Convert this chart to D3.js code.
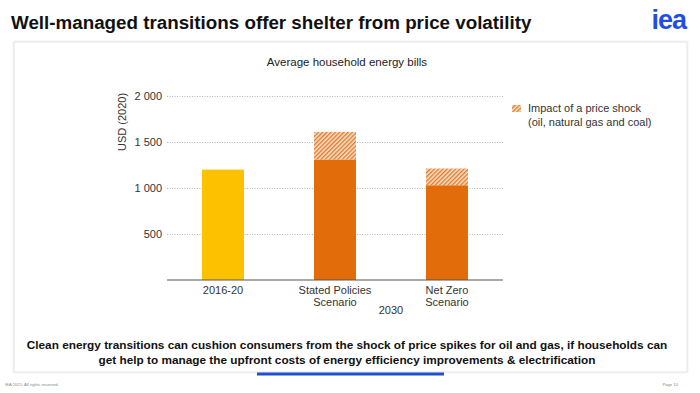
<!DOCTYPE html>
<html>
<head>
<meta charset="utf-8">
<script src="https://cdn.jsdelivr.net/npm/d3@7"></script>
<style>
  body { margin: 0; background: #fff; }
  svg { display: block; font-family: "Liberation Sans", Arial, sans-serif; }
</style>
</head>
<body>
<div id="chart"></div>
<script>
// chart values
const categories = ['2016-20', 'Stated Policies Scenario', 'Net Zero Scenario'];
const categoryLines = [['2016-20'], ['Stated Policies', 'Scenario'], ['Net Zero', 'Scenario']];
const baseBills = [1200, 1310, 1030];
const shockImpact = [0, 300, 182];
const yTicks = [500, 1000, 1500, 2000];
const legendLines = ['Impact of a price shock', '(oil, natural gas and coal)'];
const captionLines = [
  'Clean energy transitions can cushion consumers from the shock of price spikes for oil and gas, if households can',
  'get help to manage the upfront costs of energy efficiency improvements & electrification'
];

const W = 700, H = 393;
const plot = {left: 167, right: 503, top: 96, bottom: 280};

const svg = d3.select('#chart').append('svg')
    .attr('width', W)
    .attr('height', H);

// hatch pattern for the price shock
const defs = svg.append('defs');
const pat = defs.append('pattern')
    .attr('id', 'hatch')
    .attr('patternUnits', 'userSpaceOnUse')
    .attr('width', 3)
    .attr('height', 3)
    .attr('patternTransform', 'rotate(45)');
pat.append('rect').attr('width', 3).attr('height', 3).attr('fill', '#fbe3cc');
pat.append('rect').attr('width', 1.4).attr('height', 3).attr('fill', '#e3782a');

const shadow = defs.append('filter').attr('id', 'shadow')
    .attr('x', '-2%').attr('y', '-2%').attr('width', '104%').attr('height', '104%');
shadow.append('feDropShadow')
    .attr('dx', 0).attr('dy', 0).attr('stdDeviation', 1.2)
    .attr('flood-color', '#000').attr('flood-opacity', 0.12);

// title + logo
svg.append('text')
    .attr('x', 11).attr('y', 29)
    .style('font-size', '18.8px')
    .style('font-weight', 'bold')
    .attr('fill', '#111')
    .text('Well-managed transitions offer shelter from price volatility');

svg.append('text')
    .attr('x', 686).attr('y', 29)
    .attr('text-anchor', 'end')
    .style('font-size', '27px')
    .style('font-weight', 'bold')
    .style('letter-spacing', '-1px')
    .attr('fill', '#1f4fe0')
    .text('iea');

// panel
svg.append('rect')
    .attr('x', 14).attr('y', 42)
    .attr('width', 673).attr('height', 330)
    .attr('fill', '#fff')
    .attr('stroke', '#e4e4e4')
    .attr('filter', 'url(#shadow)');

svg.append('text')
    .attr('x', 347).attr('y', 66)
    .attr('text-anchor', 'middle')
    .style('font-size', '11.5px')
    .attr('fill', '#222')
    .text('Average household energy bills');

const x = d3.scaleBand()
    .domain(categories)
    .range([plot.left, plot.right])
    .paddingInner(0.625)
    .paddingOuter(0.3125);

const y = d3.scaleLinear()
    .domain([0, 2000])
    .range([plot.bottom, plot.top]);

const fmt = d3.formatLocale({decimal: '.', thousands: '\u00a0', grouping: [3], currency: ['', '']}).format(',');

// gridlines + tick labels
const yAxis = svg.append('g')
    .attr('transform', `translate(${plot.left},0)`)
    .call(d3.axisLeft(y)
      .tickValues(yTicks)
      .tickSize(-(plot.right - plot.left))
      .tickPadding(5)
      .tickFormat(fmt));
yAxis.select('.domain').remove();
yAxis.selectAll('.tick line')
    .attr('stroke', '#b5b5b5')
    .attr('stroke-dasharray', '1,1.5');
yAxis.selectAll('.tick text')
    .attr('fill', '#333')
    .style('font-size', '11px')
    .style('font-family', '"Liberation Sans", Arial, sans-serif');

svg.append('text')
    .attr('transform', `translate(126,122) rotate(-90)`)
    .attr('text-anchor', 'middle')
    .style('font-size', '11px')
    .attr('fill', '#333')
    .text('USD (2020)');

// bars
const bars = svg.append('g');
bars.selectAll('rect.base')
  .data(categories)
  .join('rect')
    .attr('class', 'base')
    .attr('x', d => x(d))
    .attr('width', x.bandwidth())
    .attr('y', (d, i) => y(baseBills[i]))
    .attr('height', (d, i) => y(0) - y(baseBills[i]))
    .attr('fill', (d, i) => i === 0 ? '#fdc100' : '#e36c0a');

bars.selectAll('rect.shock')
  .data(categories.filter((d, i) => shockImpact[i] > 0))
  .join('rect')
    .attr('class', 'shock')
    .attr('x', d => x(d))
    .attr('width', x.bandwidth())
    .attr('y', d => {
      const i = categories.indexOf(d);
      return y(baseBills[i] + shockImpact[i]);
    })
    .attr('height', d => {
      const i = categories.indexOf(d);
      return y(baseBills[i]) - y(baseBills[i] + shockImpact[i]);
    })
    .attr('fill', 'url(#hatch)');

// baseline
svg.append('line')
    .attr('x1', plot.left).attr('x2', plot.right)
    .attr('y1', y(0)).attr('y2', y(0))
    .attr('stroke', '#555')
    .attr('stroke-width', 1);

// category labels
const xl = svg.append('g');
categories.forEach((c, i) => {
  const t = xl.append('text')
      .attr('x', x(c) + x.bandwidth() / 2)
      .attr('y', y(0) + 14)
      .attr('text-anchor', 'middle')
      .style('font-size', '11px')
      .attr('fill', '#333');
  categoryLines[i].forEach((line, j) => {
    t.append('tspan')
        .attr('x', x(c) + x.bandwidth() / 2)
        .attr('dy', j === 0 ? 0 : 12)
        .text(line);
  });
});

svg.append('text')
    .attr('x', (x(categories[1]) + x(categories[2]) + x.bandwidth()) / 2)
    .attr('y', y(0) + 34)
    .attr('text-anchor', 'middle')
    .style('font-size', '11px')
    .attr('fill', '#333')
    .text('2030');

// legend
svg.append('rect')
    .attr('x', 512).attr('y', 105)
    .attr('width', 9).attr('height', 7)
    .attr('fill', 'url(#hatch)');
svg.append('text')
    .attr('x', 528).attr('y', 112)
    .style('font-size', '11px')
    .attr('fill', '#333')
    .selectAll('tspan')
    .data(legendLines)
    .join('tspan')
      .attr('x', 528)
      .attr('dy', (d, i) => i === 0 ? 0 : 14)
      .text(d => d);

// caption
svg.append('text')
    .attr('x', 347).attr('y', 349)
    .attr('text-anchor', 'middle')
    .style('font-size', '11.8px')
    .style('font-weight', 'bold')
    .attr('fill', '#111')
    .selectAll('tspan')
    .data(captionLines)
    .join('tspan')
      .attr('x', 347)
      .attr('dy', (d, i) => i === 0 ? 0 : 15)
      .text(d => d);

svg.append('rect')
    .attr('x', 257).attr('y', 372.5)
    .attr('width', 187).attr('height', 3)
    .attr('fill', '#1f4fd0');

// footer
svg.append('text')
    .attr('x', 5).attr('y', 386)
    .style('font-size', '4.2px')
    .attr('fill', '#888')
    .text('IEA 2021. All rights reserved.');
svg.append('text')
    .attr('x', 678).attr('y', 386)
    .attr('text-anchor', 'end')
    .style('font-size', '4.2px')
    .attr('fill', '#888')
    .text('Page 10');
</script>
</body>
</html>
